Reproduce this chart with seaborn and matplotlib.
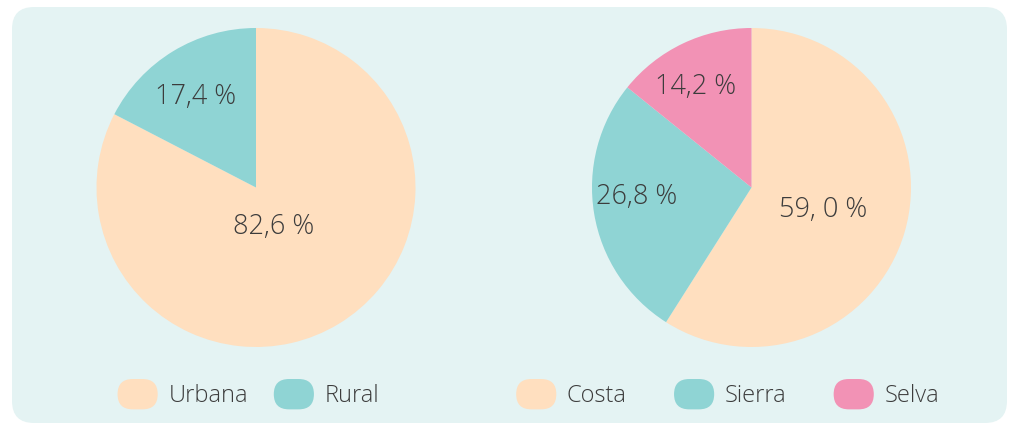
import matplotlib
matplotlib.use("Agg")
import matplotlib.pyplot as plt
import seaborn as sns
from matplotlib.patches import FancyBboxPatch
from matplotlib.legend_handler import HandlerPatch

# datos
zona_labels = ["Urbana", "Rural"]
zona_vals = [82.6, 17.4]
zona_text = ["82,6 %", "17,4 %"]

region_labels = ["Costa", "Sierra", "Selva"]
region_vals = [59.0, 26.8, 14.2]
region_text = ["59, 0 %", "26,8 %", "14,2 %"]

c_peach = "#FFDFBF"
c_teal = "#8FD4D4"
c_pink = "#F292B5"
txt_col = "#3c3c3c"

sns.set_theme(style="white")
plt.rcParams["font.family"] = ["Open Sans", "DejaVu Sans"]

W, H = 1009, 424
fig = plt.figure(figsize=(W / 100, H / 100), dpi=100, facecolor="white")

# panel de fondo
panel = FancyBboxPatch((12, H - 423), 995, 416,
                       boxstyle="round,pad=0,rounding_size=22",
                       transform=None, facecolor="#E4F3F3", edgecolor="none", zorder=-5)
fig.patches.append(panel)


class RoundHandler(HandlerPatch):
    def create_artists(self, legend, orig_handle, xdescent, ydescent,
                       width, height, fontsize, trans):
        p = FancyBboxPatch((-xdescent, -ydescent), width, height,
                           boxstyle="round,pad=0,rounding_size=%f" % (height / 2),
                           facecolor=orig_handle.get_facecolor(), edgecolor="none",
                           transform=trans)
        return [p]


R = 159.5
pad = 1.04


def make_ax(cx, cy):
    s = R * pad
    a = fig.add_axes([(cx - s) / W, (H - cy - s) / H, 2 * s / W, 2 * s / H])
    a.set_zorder(2)
    return a


def draw_pie(ax, vals, labels, texts, colors, pos, colspace, legx):
    wedges, _ = ax.pie(vals, colors=colors, startangle=90, counterclock=False,
                       wedgeprops=dict(linewidth=0))
    ax.set_xlim(-pad, pad)
    ax.set_ylim(-pad, pad)
    ax.set_aspect("equal")
    ax.axis("off")
    for t, (x, y) in zip(texts, pos):
        ax.text(x, y, t, ha="center", va="center", fontsize=19.5,
                color=txt_col, fontweight="light")
    leg = ax.legend(wedges, labels, loc="center", bbox_to_anchor=(legx, -0.123),
                    ncol=len(labels), frameon=False, fontsize=17,
                    handlelength=1.7, handleheight=1.6, handletextpad=0.45,
                    columnspacing=colspace,
                    handler_map={w: RoundHandler() for w in wedges})
    for t in leg.get_texts():
        t.set_color(txt_col)
        t.set_fontweight("light")


ax1 = make_ax(256, 187.5)
draw_pie(ax1, zona_vals, zona_labels, zona_text, [c_peach, c_teal],
         [(0.11, -0.245), (-0.38, 0.57)], 1.1, 0.477)

ax2 = make_ax(751.5, 187.5)
draw_pie(ax2, region_vals, region_labels, region_text, [c_peach, c_teal, c_pink],
         [(0.45, -0.14), (-0.72, -0.06), (-0.35, 0.63)], 2.0, 0.428)

fig.savefig("out.png", dpi=100, facecolor="white")
